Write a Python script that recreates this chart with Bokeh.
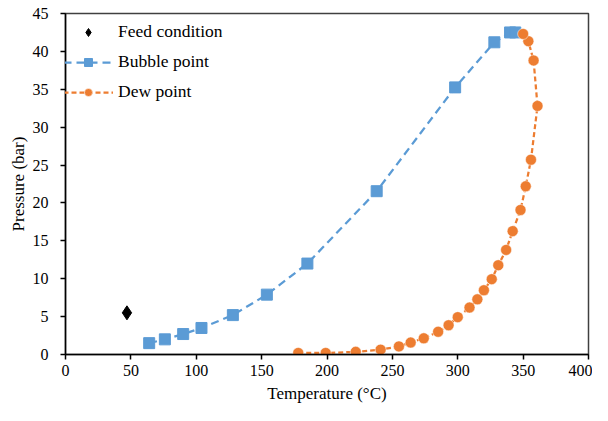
from bokeh.plotting import figure
from bokeh.models import Legend, LegendItem, Range1d, FixedTicker
from bokeh.embed import file_html
from bokeh.resources import INLINE

# Data
feed_T = [47]
feed_P = [5.5]

bubble_T = [64, 76, 90, 104, 128, 154, 185, 238, 298, 328, 340, 344]
bubble_P = [1.5, 2.0, 2.7, 3.5, 5.2, 7.9, 12.0, 21.55, 35.25, 41.2, 42.5, 42.5]

dew_T = [178, 199, 222, 241, 255, 264, 274, 285, 293, 300, 309, 315, 320,
         326, 331, 337, 342, 348, 352, 356, 361, 358, 354, 350]
dew_P = [0.2, 0.2, 0.35, 0.64, 1.07, 1.58, 2.14, 3.0, 3.86, 4.93, 6.2, 7.28,
         8.48, 9.94, 11.78, 13.8, 16.28, 19.07, 22.2, 25.7, 32.8, 38.8, 41.35, 42.3]

x_ticks = [0, 50, 100, 150, 200, 250, 300, 350, 400]
y_ticks = [0, 5, 10, 15, 20, 25, 30, 35, 40, 45]

BLUE = "#5B9BD5"
ORANGE = "#ED7D31"
FONT = "Liberation Serif"

p = figure(width=592, height=405, output_backend="svg", toolbar_location=None,
           x_range=Range1d(0, 400), y_range=Range1d(0, 45),
           min_border_left=65, min_border_right=4, min_border_top=13, min_border_bottom=48)

p.xgrid.visible = False
p.ygrid.visible = False
p.outline_line_color = "#404040"
p.outline_line_width = 1.5

for ax in (p.xaxis[0], p.yaxis[0]):
    ax.axis_line_color = "black"
    ax.axis_line_width = 1.5
    ax.major_tick_line_color = "black"
    ax.major_tick_line_width = 1.5
    ax.major_tick_in = 0
    ax.major_tick_out = 5
    ax.minor_tick_line_color = None
    ax.major_label_text_font = FONT
    ax.major_label_text_font_size = "16px"
    ax.major_label_text_color = "black"
    ax.axis_label_text_font = FONT
    ax.axis_label_text_font_size = "17px"
    ax.axis_label_text_font_style = "normal"
    ax.axis_label_text_color = "black"

p.xaxis.ticker = FixedTicker(ticks=x_ticks)
p.yaxis.ticker = FixedTicker(ticks=y_ticks)
p.xaxis.axis_label = "Temperature (°C)"
p.yaxis.axis_label = "Pressure (bar)"
p.xaxis.major_label_standoff = 5
p.yaxis.major_label_standoff = 12
p.xaxis.axis_label_standoff = 5
p.yaxis.axis_label_standoff = 2

bl = p.line(bubble_T, bubble_P, line_color=BLUE, line_width=2.25, line_dash="8 5")
bm = p.scatter(bubble_T, bubble_P, marker="square", size=11, fill_color=BLUE, line_color=BLUE)
dl = p.line(dew_T, dew_P, line_color=ORANGE, line_width=2.25, line_dash="5 3")
dm = p.scatter(dew_T, dew_P, marker="circle", size=11, fill_color=ORANGE, line_color="white", line_width=0.5)
fm = p.scatter(feed_T, feed_P, marker="diamond", size=14, fill_color="black", line_color="black")

legend = Legend(items=[
    LegendItem(label="Feed condition", renderers=[fm]),
    LegendItem(label="Bubble point", renderers=[bl, bm]),
    LegendItem(label="Dew point", renderers=[dl, dm]),
], location=(-2, 252))
legend.border_line_color = None
legend.background_fill_alpha = 0
legend.padding = 0
legend.margin = 0
legend.spacing = 9
legend.glyph_width = 50
legend.glyph_height = 20
legend.label_standoff = 5
legend.label_text_font = FONT
legend.label_text_font_size = "17.5px"
legend.label_text_color = "black"
p.add_layout(legend)

open("out.html", "w").write(file_html(p, INLINE))
